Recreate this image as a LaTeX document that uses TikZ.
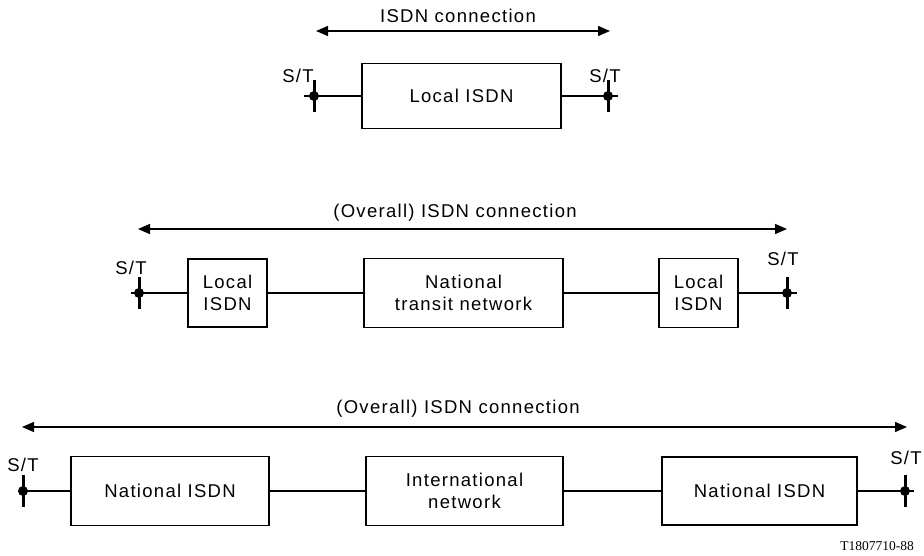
\documentclass[tikz,border=0pt]{standalone}
\usepackage{fontspec}
\setmainfont{Liberation Sans}[LetterSpace=7]
\newfontfamily\codefont{Liberation Serif}
\usetikzlibrary{arrows.meta}
\begin{document}
\begin{tikzpicture}[x=1pt,y=-1pt,
  every node/.style={font=\fontsize{18.5}{22}\selectfont},
  blk/.style={draw,line width=1.9pt,minimum width=#1,inner sep=0pt,align=center},
  lnk/.style={line width=1.4pt},
  span/.style={line width=1.4pt,{Triangle[length=12pt,width=10pt]}-{Triangle[length=12pt,width=10pt]}},
  tick/.style={line width=3pt},
  lbl/.style={inner sep=0pt}
]
\useasboundingbox (0,0) rectangle (924,555);

% ---------- Row 1 ----------
\node[blk=199pt,minimum height=65pt] (l1) at (461.5,96) {Local ISDN};
\coordinate (a1) at (314,96);
\coordinate (b1) at (608,96);
\coordinate (a1e) at (304,96);
\coordinate (b1e) at (618,96);
\draw[lnk] (a1e) -- (l1.west);
\draw[lnk] (l1.east) -- (b1e);
\foreach \p in {a1,b1}{
  \draw[tick] ([yshift=-16pt]\p) -- ([yshift=16pt]\p);
  \fill (\p) circle (5pt);
}
\node[lbl] (st1a) at (298,76) {S/T};
\node[lbl] (st1b) at (605,76) {S/T};
\coordinate (r1a) at (316,31);
\coordinate (r1b) at (610,31);
\draw[span] (r1a) -- (r1b);
\node[lbl] (t1) at (458,16) {ISDN connection};

% ---------- Row 2 ----------
\node[blk=79pt,minimum height=68pt] (l2a) at (227.5,293) {Local\\ISDN};
\node[blk=199pt,minimum height=69pt] (n2) at (463.5,293) {National\\transit network};
\node[blk=79pt,minimum height=69pt] (l2b) at (698.5,293) {Local\\ISDN};
\coordinate (a2) at (139,293);
\coordinate (b2) at (787,293);
\coordinate (a2e) at (131,293);
\coordinate (b2e) at (797,293);
\draw[lnk] (a2e) -- (l2a.west);
\draw[lnk] (l2a.east) -- (n2.west);
\draw[lnk] (n2.east) -- (l2b.west);
\draw[lnk] (l2b.east) -- (b2e);
\foreach \p in {a2,b2}{
  \draw[tick] ([yshift=-16pt]\p) -- ([yshift=16pt]\p);
  \fill (\p) circle (5pt);
}
\node[lbl] (st2a) at (131,268) {S/T};
\node[lbl] (st2b) at (783,259) {S/T};
\coordinate (r2a) at (138,229);
\coordinate (r2b) at (787,229);
\draw[span] (r2a) -- (r2b);
\node[lbl] (t2) at (455,213) {(Overall) ISDN connection};

% ---------- Row 3 ----------
\node[blk=198pt,minimum height=69pt] (n3a) at (170,491) {National ISDN};
\node[blk=197pt,minimum height=69pt] (i3) at (464.5,491) {International\\network};
\node[blk=195pt,minimum height=68pt] (n3b) at (759.5,491) {National ISDN};
\coordinate (a3) at (23,491);
\coordinate (b3) at (905,491);
\coordinate (b3e) at (914,491);
\draw[lnk] (a3) -- (n3a.west);
\draw[lnk] (n3a.east) -- (i3.west);
\draw[lnk] (i3.east) -- (n3b.west);
\draw[lnk] (n3b.east) -- (b3e);
\foreach \p in {a3,b3}{
  \draw[tick] ([yshift=-16pt]\p) -- ([yshift=16pt]\p);
  \fill (\p) circle (5pt);
}
\node[lbl] (st3a) at (23,465) {S/T};
\node[lbl] (st3b) at (906,458) {S/T};
\coordinate (r3a) at (22,427);
\coordinate (r3b) at (907,427);
\draw[span] (r3a) -- (r3b);
\node[lbl] (t3) at (458,409) {(Overall) ISDN connection};

\node[lbl,font=\codefont\fontsize{13.5}{15}\selectfont] (code) at (877,546) {T1807710-88};
\end{tikzpicture}
\end{document}
